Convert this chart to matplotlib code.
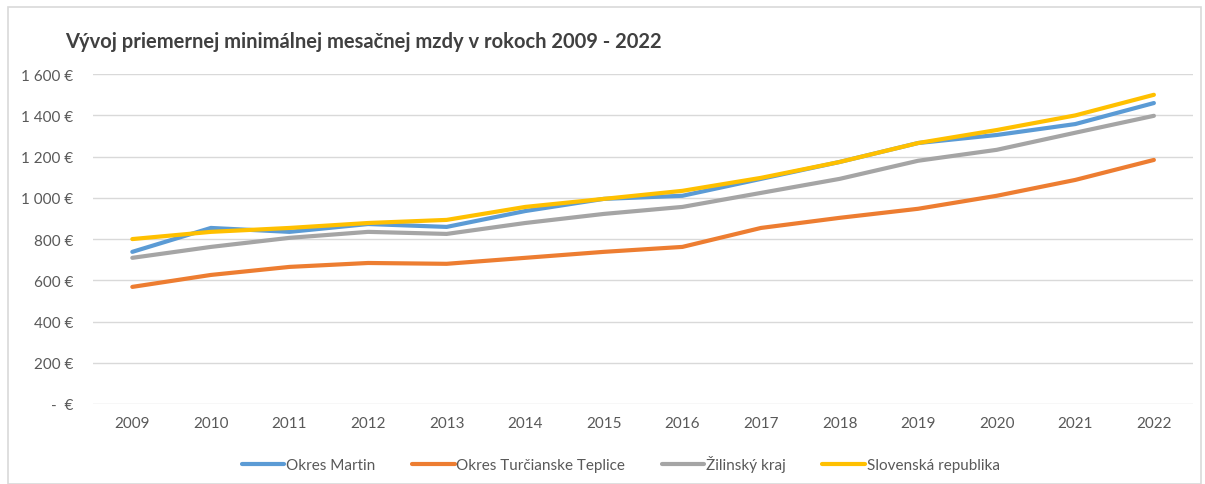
import numpy as np
import matplotlib.pyplot as plt
from matplotlib.patches import Rectangle
from matplotlib.ticker import FuncFormatter

plt.rcParams['font.family'] = ['Lato', 'DejaVu Sans']

years = ['2009', '2010', '2011', '2012', '2013', '2014', '2015',
         '2016', '2017', '2018', '2019', '2020', '2021', '2022']

okres_martin = [738, 854, 835, 873, 859, 936, 995, 1010, 1092, 1174, 1266, 1305, 1358, 1460]
okres_turc_teplice = [568, 626, 665, 684, 680, 709, 738, 762, 854, 903, 947, 1010, 1087, 1184]
zilinsky_kraj = [709, 762, 806, 835, 825, 878, 922, 956, 1024, 1092, 1180, 1233, 1316, 1398]
slovenska_rep = [800, 835, 854, 878, 893, 956, 995, 1034, 1097, 1174, 1266, 1329, 1400, 1500]

series = [
    ('Okres Martin', okres_martin, '#5B9BD5'),
    ('Okres Turčianske Teplice', okres_turc_teplice, '#ED7D31'),
    ('Žilinský kraj', zilinsky_kraj, '#A5A5A5'),
    ('Slovenská republika', slovenska_rep, '#FFC000'),
]

fig = plt.figure(figsize=(12.05, 4.85), dpi=100)
ax = fig.add_axes([0.0772, 0.165, 0.913, 0.680])

# chart border like in Excel
fig.patches.append(Rectangle((0.007, 0.0), 0.99, 0.984, transform=fig.transFigure,
                             fill=False, edgecolor='#d9d9d9', linewidth=1.2))

x = np.arange(len(years))
for name, vals, col in series:
    ax.plot(x, vals, color=col, linewidth=3, label=name, solid_capstyle='round')

def euro(v, pos):
    if v == 0:
        return '-  €'
    return f'{int(v):,} €'.replace(',', ' ')

ax.set_ylim(0, 1600)
ax.set_yticks(np.arange(0, 1601, 200))
ax.yaxis.set_major_formatter(FuncFormatter(euro))
ax.set_xlim(-0.5, len(years) - 0.5)
ax.set_xticks(x)
ax.set_xticklabels(years)

ax.grid(axis='y', color='#d9d9d9', linewidth=1)
ax.set_axisbelow(True)
for s in ax.spines.values():
    s.set_visible(False)
ax.tick_params(length=0, colors='#595959', labelsize=11)
ax.tick_params(axis='x', pad=9)
ax.tick_params(axis='y', pad=14)

fig.text(0.054, 0.913, 'Vývoj priemernej minimálnej mesačnej mzdy v rokoch 2009 - 2022',
         fontsize=14.5, fontweight='bold', color='#404040', va='center')

fig.legend(loc='center', bbox_to_anchor=(0.515, 0.042), ncol=4, frameon=False,
           fontsize=11, handlelength=2.8, columnspacing=2.4, handletextpad=0.1,
           labelcolor='#595959')

fig.savefig('out.png', dpi=100)
